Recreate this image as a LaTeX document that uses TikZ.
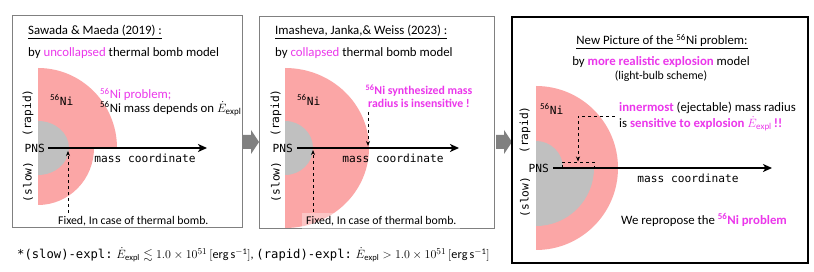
\documentclass[tikz,border=0pt]{standalone}
\usepackage{amsmath,amssymb}
\usepackage{fontspec}
\setmainfont{Carlito}
\newfontfamily\monof{DejaVu Sans Mono}
\usetikzlibrary{arrows.meta}
\definecolor{pinkfill}{RGB}{251,166,166}
\definecolor{pnsgray}{RGB}{192,192,192}
\definecolor{mag}{RGB}{235,55,235}
\definecolor{boxgray}{RGB}{128,128,128}
\tikzset{
  txt/.style={inner sep=0pt, font=\fontsize{12.8}{14.5}\selectfont},
  smalltxt/.style={inner sep=0pt, font=\fontsize{11.8}{13.5}\selectfont},
  mono/.style={inner sep=0pt, font=\monof\fontsize{11.2}{13}\selectfont},
  panelbox/.style={draw=boxgray, line width=0.9pt, fill=white},
  mainbox/.style={draw=black, line width=2pt, fill=white},
  axis/.style={line width=1.6pt, -{Stealth[length=9pt,width=8pt,inset=2.5pt]}},
  dasharrow/.style={dashed, line width=0.9pt, -{Stealth[length=5pt,width=4pt]}},
  dashline/.style={dashed, line width=0.9pt},
  blockarrow/.style={fill=boxgray, draw=none}
}
\begin{document}
\begin{tikzpicture}[x=1pt,y=-1pt]
\useasboundingbox (0,0) rectangle (814,272);
% block arrows between panels
\fill[blockarrow] (243,135) -- (251,135) -- (251,130) -- (259,142) -- (251,154) -- (251,149) -- (243,149) -- cycle;
\fill[blockarrow] (496,135) -- (504,135) -- (504,130) -- (512,142) -- (504,154) -- (504,149) -- (496,149) -- cycle;
% panels
\draw[panelbox] (12,15) rectangle (242,227);
\draw[panelbox] (259,16) rectangle (494,228);
\draw[mainbox] (512,17) rectangle (808,263);

%%%%% Panel 1
\fill[pinkfill] (38,68) arc[start angle=-90,end angle=0,x radius=79,y radius=80]
  -- (94,148) arc[start angle=0,end angle=90,x radius=56,y radius=57] -- cycle;
\fill[pnsgray] (38,121) arc[start angle=-90,end angle=90,x radius=31,y radius=27] -- cycle;
\node[txt,anchor=west] (t1) at (28,32) {\underline{Sawada \& Maeda (2019) :}};
\node[txt,anchor=west] (s1) at (28,53) {by {\color{mag}uncollapsed} thermal bomb model};
\node[mono,anchor=west] (ni1) at (50,100) {{\rmfamily\fontsize{12.8}{14}\selectfont\textsuperscript{56}}Ni};
\node[mono,rotate=90] (rapid1) at (28,113) {(rapid)};
\node[mono,rotate=90] (slow1) at (28,182) {(slow)};
\node[mono,anchor=east] (pns1) at (45,148) {PNS};
\coordinate (a1s) at (48,148);
\coordinate (a1e) at (207,148);
\draw[axis] (a1s) -- (a1e);
\node[mono] (mc1) at (145,158) {mass coordinate};
\node[txt,anchor=west,text=mag] (prob1) at (100,94.5) {\textsuperscript{56}Ni problem;};
\node[txt,anchor=west] (dep1) at (100,108.5) {\textsuperscript{56}Ni mass depends on $\dot{E}_{\mathrm{expl}}$};
\node[smalltxt,anchor=west] (fix1) at (58,221) {Fixed, In case of thermal bomb.};
\coordinate (d1s) at (68,213);
\coordinate (d1e) at (68,151);
\draw[dasharrow] (d1s) -- (d1e);

%%%%% Panel 2
\fill[pinkfill] (285,68) arc[start angle=-90,end angle=90,x radius=84,y radius=80] -- cycle;
\fill[pnsgray] (285,121) arc[start angle=-90,end angle=90,x radius=28,y radius=27] -- cycle;
\node[txt,anchor=west] (t2) at (275,32) {\underline{Imasheva, Janka,\& Weiss (2023) :}};
\node[txt,anchor=west] (s2) at (275,53) {by {\color{mag}collapsed} thermal bomb model};
\node[mono,anchor=west] (ni2) at (297,100) {{\rmfamily\fontsize{12.8}{14}\selectfont\textsuperscript{56}}Ni};
\node[mono,rotate=90] (rapid2) at (276,113) {(rapid)};
\node[mono,rotate=90] (slow2) at (276,182) {(slow)};
\node[mono,anchor=east] (pns2) at (293,148) {PNS};
\coordinate (a2s) at (297,148);
\coordinate (a2e) at (459,148);
\draw[axis] (a2s) -- (a2e);
\node[mono] (mc2) at (393,158) {mass coordinate};
\node[txt,align=center,text=mag,font=\bfseries\fontsize{11.8}{13}\selectfont] (syn2) at (419,96.5)
  {\textsuperscript{56}Ni synthesized mass\\radius is insensitive !};
\coordinate (d2s) at (368,112);
\coordinate (d2e) at (368,146);
\draw[dasharrow] (d2s) -- (d2e);
\node[smalltxt,anchor=west,fill=white,fill opacity=0.35,text opacity=1,inner xsep=4pt,inner ysep=3pt] (fix2) at (302,221) {Fixed, In case of thermal bomb.};
\coordinate (d3s) at (313,212);
\coordinate (d3e) at (313,150);
\draw[dasharrow] (d3s) -- (d3e);

%%%%% Panel 3
\fill[pinkfill] (536,86) arc[start angle=-90,end angle=90,radius=82] -- cycle;
\fill[pnsgray] (536,141) arc[start angle=-90,end angle=0,radius=27]
  -- (594,168) arc[start angle=0,end angle=90,radius=58] -- cycle;
\node[txt] (t3) at (662,42) {\underline{New Picture of the \textsuperscript{56}Ni problem:}};
\node[txt] (s3) at (661,62) {by {\bfseries\color{mag}more realistic explosion} model};
\node[smalltxt] (s3b) at (661,76) {(light-bulb scheme)};
\node[txt,anchor=west] (inn) at (619,108) {{\bfseries\color{mag}innermost} (ejectable) mass radius};
\node[txt,anchor=west] (sens) at (619,124) {is {\bfseries\color{mag}sensitive to explosion $\dot{E}_{\mathrm{expl}}$\,!!}};
\node[mono,anchor=west] (ni3) at (540,109) {{\rmfamily\fontsize{12.8}{14}\selectfont\textsuperscript{56}}Ni};
\node[mono,rotate=90] (rapid3) at (525,130) {(rapid)};
\node[mono,rotate=90] (slow3) at (525,197) {(slow)};
\node[mono,anchor=east] (pns3) at (549,168) {PNS};
\coordinate (a3s) at (553,168);
\coordinate (a3e) at (772,168);
\draw[axis] (a3s) -- (a3e);
\node[mono] (mc3) at (688,178) {mass coordinate};
\node[txt,anchor=west] (rep) at (621,220) {We repropose the {\bfseries\color{mag}\textsuperscript{56}Ni problem}};
\coordinate (b1) at (562,168);
\coordinate (b2) at (562,162);
\coordinate (b3) at (594,162);
\coordinate (b4) at (594,168);
\draw[dashline] (b1) -- (b2) -- (b3) -- (b4);
\coordinate (c1) at (615,116);
\coordinate (c2) at (578,116);
\coordinate (c3) at (578,161.5);
\draw[dasharrow] (c1) -- (c2) -- (c3);

%%%%% footnote
\node[inner sep=0pt,anchor=west,font=\fontsize{12.2}{13.5}\selectfont] (foot) at (17,255)
  {{\monof *(slow)-expl:} $\dot{E}_{\mathrm{expl}} \lesssim 1.0\times10^{51}\,[\mathrm{erg\,s^{-1}}]$,
   {\monof (rapid)-expl:} $\dot{E}_{\mathrm{expl}} > 1.0\times10^{51}\,[\mathrm{erg\,s^{-1}}]$};
\end{tikzpicture}
\end{document}
